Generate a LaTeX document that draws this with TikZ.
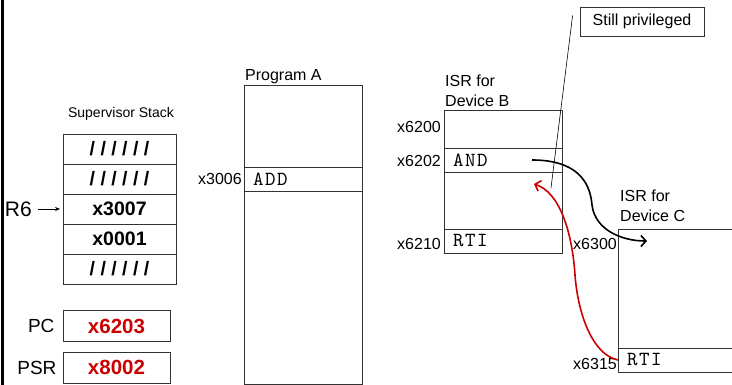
\documentclass[tikz,border=0pt]{standalone}
\usepackage{fontspec}
\setmainfont{Liberation Sans}
\newfontfamily\codefont{lmmono10-regular.otf}[LetterSpace=8]
\usetikzlibrary{positioning,arrows.meta}
\definecolor{regred}{RGB}{204,0,0}
\tikzset{
  cell/.style={draw=black!80, line width=0.8pt, minimum width=113pt, minimum height=30pt, inner sep=0pt, outer sep=0pt, font=\fontsize{19.5}{19.5}\selectfont\bfseries},
  reg/.style={draw=black!80, line width=0.8pt, minimum width=107pt, minimum height=31pt, inner sep=0pt, text=regred, font=\fontsize{20.5}{20.5}\selectfont\bfseries},
  reglbl/.style={inner sep=0pt, font=\fontsize{19}{19}\selectfont},
  mem/.style={draw=black!80, line width=0.8pt, inner sep=0pt, outer sep=0pt},
  instr/.style={draw=black!80, line width=0.8pt, outer sep=0pt, minimum height=24pt, text width=100pt, inner xsep=9pt, inner ysep=0pt, align=left, font=\fontsize{20}{20}\codefont},
  addr/.style={inner sep=0pt, font=\fontsize{16}{16}\selectfont},
  lbl/.style={inner sep=0pt, align=left, font=\fontsize{16}{20}\selectfont},
  callarrow/.style={line width=1.6pt, -{Straight Barb[length=5pt, width=11pt]}},
}
\begin{document}
\begin{tikzpicture}[x=1pt, y=-1pt]
\useasboundingbox (0,0) rectangle (732,385);
\clip (0,0) rectangle (732,385);
\draw[line width=3pt] (2.5,0) -- (2.5,385);

% supervisor stack
\node[addr, font=\fontsize{14}{14}\selectfont] (sslbl) at (121,114) {Supervisor Stack};
\foreach \txt [count=\i] in {{/ / / / / /}, {/ / / / / /}, x3007, x0001, {/ / / / / /}}
  \node[cell] (s\i) at (119.5, 119+\i*30) {\txt};
\node[reglbl, left=31pt of s3, font=\fontsize{21}{21}\selectfont] (r6) {R6};
\draw[line width=0.6pt, -{Stealth[length=5pt, width=4pt]}, shorten <=6pt, shorten >=3pt] (r6.east) -- (s3.west);

% registers
\node[reg] (pc) at (116.5,326) {x6203};
\node[reg] (psr) at (116.5,367.5) {x8002};
\node[reglbl, left=8pt of pc] (pclbl) {PC};
\node[reglbl, left=6pt of psr] (psrlbl) {PSR};

% program A
\node[mem, minimum width=118pt, minimum height=299pt] (proga) at (303,234.5) {};
\node[lbl, above right=1pt and 1pt of proga.north west] (progalbl) {Program A};
\node[instr, below=82pt of proga.north] (add) {ADD};
\node[addr, left=2pt of add] (addaddr) {x3006};

% ISR for device B
\node[mem, minimum width=118pt, minimum height=143pt] (isrb) at (503,181.5) {};
\node[lbl, above right=3pt and 1pt of isrb.north west] (isrblbl) {ISR for\\Device B};
\node[instr, below=38pt of isrb.north] (androw) {AND};
\node[instr, above=0pt of isrb.south] (rtib) {RTI};
\node[addr, anchor=east] (b6200) at ([shift={(-3pt,-17pt)}]isrb.north west) {x6200};
\node[addr, left=3pt of androw, yshift=-1pt] (b6202) {x6202};
\node[addr, left=3pt of rtib, yshift=-3pt] (b6210) {x6210};

% ISR for device C
\node[mem, minimum width=130pt, minimum height=143pt] (isrc) at (683,300.5) {};
\node[lbl, above right=7pt and 2pt of isrc.north west] (isrclbl) {ISR for\\Device C};
\node[instr, anchor=south west, text width=112pt] (rtic) at (isrc.south west) {RTI};
\node[addr, anchor=east] (c6300) at ([shift={(-1pt,-15pt)}]isrc.north west) {x6300};
\node[addr, left=1pt of rtic, yshift=-4pt] (c6315) {x6315};

% note
\node[draw=black!80, line width=0.8pt, minimum width=124pt, minimum height=29pt, inner sep=0pt, font=\fontsize{16}{16}\selectfont] (note) at (642,21.5) {Still privileged};
\coordinate (privtip) at (551,188);
\draw[line width=0.6pt] ([shift={(-7pt,6pt)}]note.west) -- (privtip);

% interrupt and return
\coordinate[left=30pt of androw.east] (andout);
\coordinate (isrcin) at ([shift={(29pt,-12pt)}]isrc.north west);
\coordinate (retin) at ([shift={(90pt,-12pt)}]androw.south west);
\draw[callarrow] (andout) .. controls +(43,0) and +(-2,-25) .. (592,205)
  .. controls +(3,25) and +(-25,0) .. (isrcin);
\draw[callarrow, regred] (rtic.west) .. controls +(-25,-5) and +(3,40) .. (575,275)
  .. controls +(-3,-45) and +(25,8) .. (retin);
\end{tikzpicture}
\end{document}
